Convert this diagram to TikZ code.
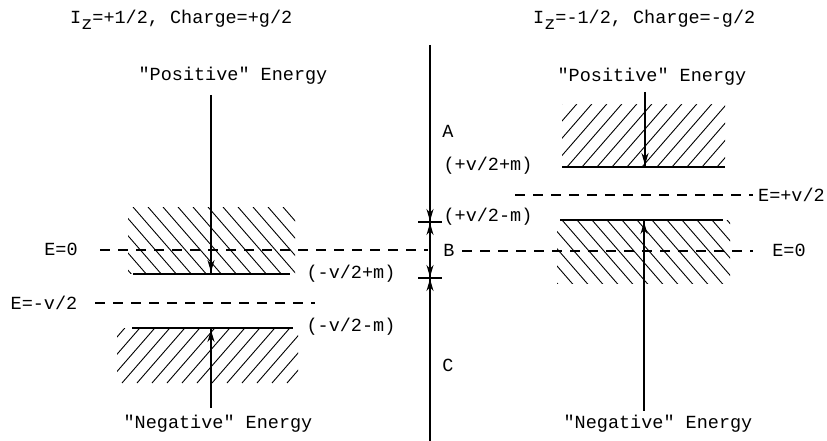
\documentclass[tikz,border=0pt]{standalone}
\usepackage{fontspec}
\setmainfont{Liberation Mono}
\usetikzlibrary{arrows.meta}
\tikzset{
  lbl/.style={inner sep=0pt, font=\fontsize{18.5}{20}\selectfont},
  axisline/.style={line width=1.6pt},
  level/.style={line width=2.2pt},
  dashline/.style={line width=1.6pt, dash pattern=on 10pt off 8pt},
  hatchline/.style={line width=0.9pt},
  tick/.style={line width=1.2pt},
  arr/.style={line width=1.8pt, -{Stealth[length=12pt,width=7pt]}}
}
\newcommand{\hatchdown}[4]{% "\" hatching in rectangle (#1,#2)-(#3,#4), y downward
  \begin{scope}
    \clip (#1,#2) rectangle (#3,#4);
    \foreach \k in {0,15,...,330}
      \draw[hatchline] ({#1-100+\k},#2) -- ++(100,115);
  \end{scope}}
\newcommand{\hatchup}[4]{% "/" hatching
  \begin{scope}
    \clip (#1,#2) rectangle (#3,#4);
    \foreach \k in {0,15,...,330}
      \draw[hatchline] ({#1-100+\k},#4) -- ++(100,-115);
  \end{scope}}
\newcommand{\qq}{\textquotedbl}
\begin{document}
\begin{tikzpicture}[x=1pt,y=-1pt]
\useasboundingbox (0,0) rectangle (827,441);
% titles
\node[lbl, anchor=base west] (t1) at (70,24) {I\raisebox{-0.55ex}{z}=+1/2, Charge=+g/2};
\node[lbl, anchor=base west] (t2) at (533,24) {I\raisebox{-0.55ex}{z}=-1/2, Charge=-g/2};
% left panel
\node[lbl] (lpos) at (233,76) {\qq Positive\qq{} Energy};
\node[lbl] (lneg) at (218,424) {\qq Negative\qq{} Energy};
\hatchdown{128}{207}{295}{273}
\hatchup{117}{328}{298}{383}
\draw[axisline] (211,95) -- (211,274);
\draw[axisline] (211,328) -- (211,408);
\draw[level] (133,274) -- (290,274);
\draw[level] (132,328) -- (293,328);
\draw[arr] (211,250) -- (211,272);
\draw[arr] (211,354) -- (211,330);
\node[lbl] (e0l) at (61,249) {E=0};
\node[lbl] (emv) at (44,303) {E=-v/2};
\draw[dashline] (100,250) -- (428,250);
\draw[dashline] (95,303) -- (315,303);
\node[lbl] (l1) at (351,274) {(-v/2+m)};
\node[lbl] (l2) at (351,327) {(-v/2-m)};
% central axis
\draw[axisline] (430,45) -- (430,441);
\draw[tick] (418,222) -- (442,222);
\draw[tick] (418,278) -- (442,278);
\draw[arr] (430,196) -- (430,221);
\draw[arr] (430,245) -- (430,223);
\draw[arr] (430,253) -- (430,277);
\draw[arr] (430,302) -- (430,279);
\node[lbl] (A) at (448,131) {A};
\node[lbl] (B) at (449,250) {B};
\node[lbl] (C) at (448,365) {C};
\node[lbl] (r1) at (488,166) {(+v/2+m)};
\node[lbl] (r2) at (488,217) {(+v/2-m)};
% right panel
\node[lbl] (rpos) at (652,77) {\qq Positive\qq{} Energy};
\node[lbl] (rneg) at (658,424) {\qq Negative\qq{} Energy};
\hatchup{562}{105}{725}{167}
\hatchdown{557}{220}{730}{283}
\draw[axisline] (645,92) -- (645,167);
\draw[axisline] (644,220) -- (644,411);
\draw[level] (562,167) -- (725,167);
\draw[level] (560,220) -- (723,220);
\draw[arr] (645,140) -- (645,165);
\draw[arr] (644,247) -- (644,222);
\draw[dashline] (462,251) -- (753,251);
\draw[dashline] (515,195) -- (753,195);
\node[lbl] (e0r) at (789,250) {E=0};
\node[lbl, anchor=east] (epv) at (825,195) {E=+v/2};
\end{tikzpicture}
\end{document}
